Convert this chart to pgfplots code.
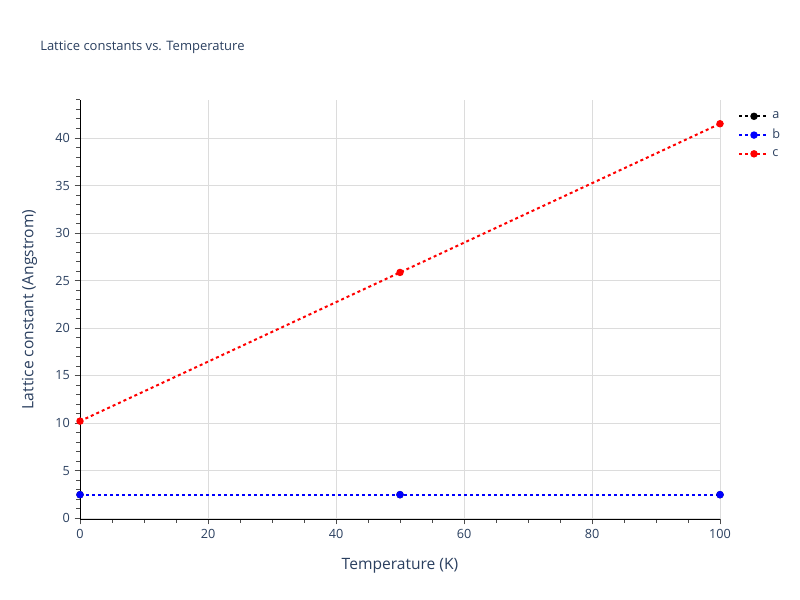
\documentclass[border=0pt]{standalone}
\usepackage{pgfplots}
\pgfplotsset{compat=1.18}
\usepackage{fontspec}
\setmainfont{Open Sans}
\definecolor{txt}{HTML}{2A3F5F}
\definecolor{gridc}{HTML}{DCDCDC}
\begin{document}
\begin{tikzpicture}
\path (0bp,0bp) rectangle (600bp,450bp);
\node[anchor=base west, font=\fontsize{9.75bp}{11bp}\selectfont, text=txt, inner sep=0] at (30bp,412bp) {Lattice constants vs. Temperature};
\begin{axis}[
  at={(60bp,60.75bp)}, anchor=south west, scale only axis,
  width=480bp, height=314.25bp,
  xmin=0, xmax=100, ymin=-0.1, ymax=44,
  xtick={0,20,...,100}, ytick={0,5,...,40},
  minor xtick={5,10,...,95}, minor ytick={1,2,...,44},
  grid=major, major grid style={gridc, line width=0.75bp},
  axis x line*=bottom, axis y line*=left,
  axis line style={black, line width=0.75bp, -},
  tick align=outside, tick pos=left,
  major tick length=4bp, minor tick length=3bp,
  tick style={black!70, line width=0.75bp},
  every tick label/.append style={font=\fontsize{9.5bp}{11bp}\selectfont, text=txt},
  /pgf/number format/assume math mode=true,
  xlabel={Temperature (K)}, ylabel={Lattice constant (Angstrom)},
  xlabel style={font=\fontsize{11.7bp}{13bp}\selectfont, text=txt, yshift=-8bp},
  ylabel style={font=\fontsize{11.7bp}{13bp}\selectfont, text=txt, yshift=7bp},
  legend style={at={(rel axis cs:1.022,0.985)}, anchor=north west, draw=none, fill=none,
    font=\fontsize{9.5bp}{11bp}\selectfont, text=txt, row sep=2.4bp,
    /tikz/every even column/.append style={column sep=2bp}},
  legend image code/.code={\draw[#1] (0bp,0bp) -- (11bp,0bp) -- (22bp,0bp); \path[#1, solid] plot coordinates {(11bp,0bp)};},
  legend cell align=left,
  clip=false,
]
\addplot[black, line width=1.5bp, dash pattern=on 2.25bp off 2.25bp, mark=*, mark size=2bp, mark options={solid, fill=black, draw=black}] coordinates {(0,2.46) (50,2.46) (100,2.46)};
\addlegendentry{a}
\addplot[blue, line width=1.5bp, dash pattern=on 2.25bp off 2.25bp, mark=*, mark size=2bp, mark options={solid, fill=blue, draw=blue}] coordinates {(0,2.46) (50,2.46) (100,2.46)};
\addlegendentry{b}
\addplot[red, line width=1.5bp, dash pattern=on 2.25bp off 2.25bp, mark=*, mark size=2bp, mark options={solid, fill=red, draw=red}] coordinates {(0,10.2) (50,25.85) (100,41.5)};
\addlegendentry{c}
\end{axis}
\end{tikzpicture}
\end{document}
